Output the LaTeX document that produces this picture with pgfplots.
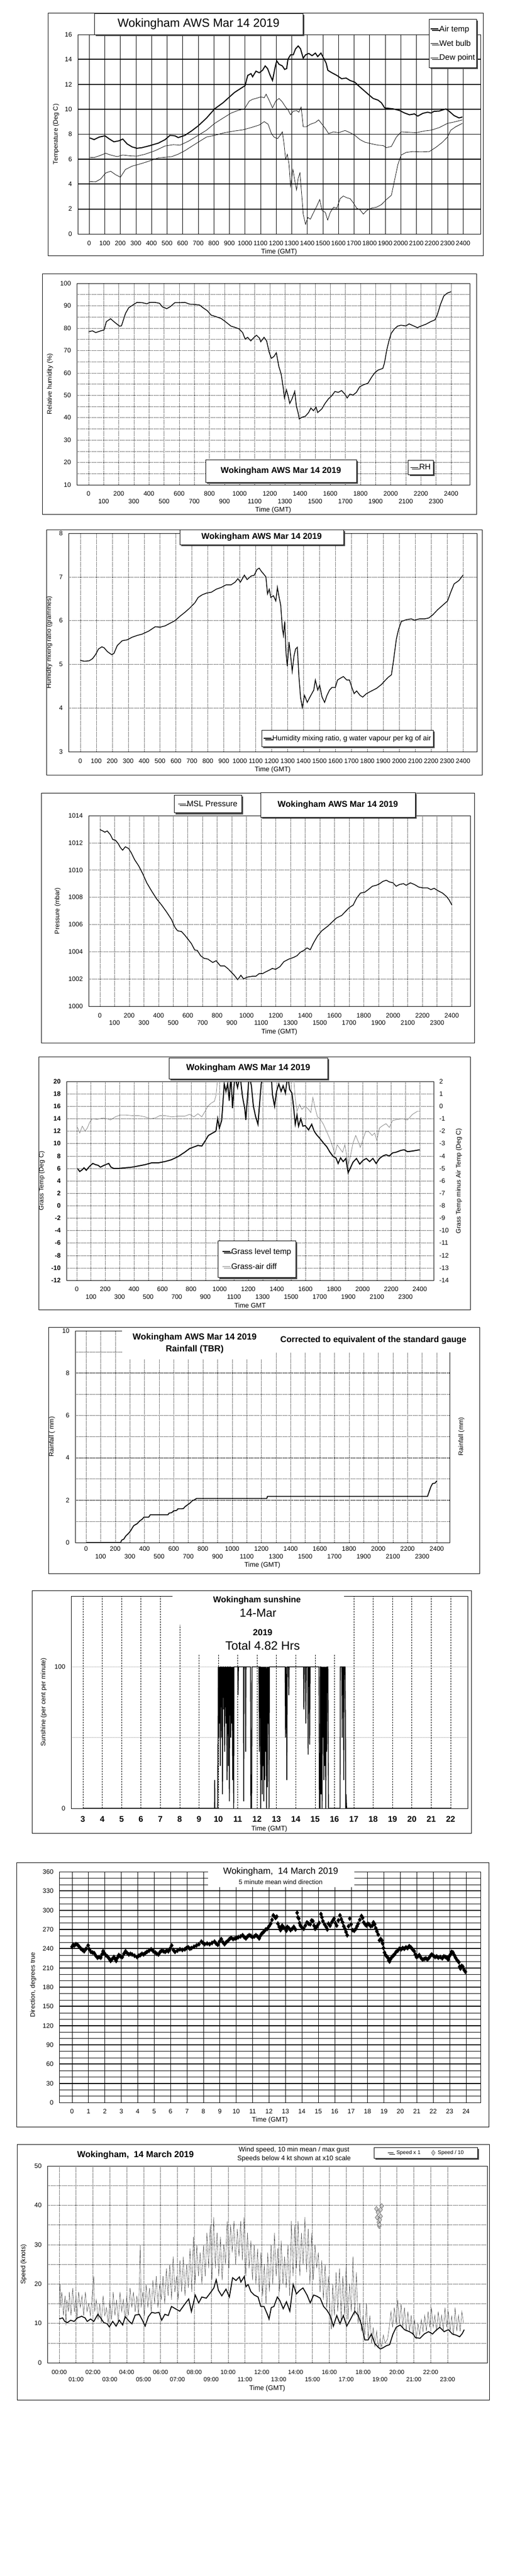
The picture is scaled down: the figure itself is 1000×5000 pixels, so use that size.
\documentclass[border=0pt]{standalone}
\usepackage{fontspec}
\setmainfont{Liberation Sans}
\usepackage{pgfplots}
\pgfplotsset{compat=1.18}
\usetikzlibrary{shadows}

\tikzset{
  dg/.style={black, line width=0.5pt, dash pattern=on 1pt off 1.2pt},
  tb/.style={draw=black, line width=0.6pt, fill=white, inner sep=0pt,
    drop shadow={shadow xshift=3pt, shadow yshift=-3pt, opacity=1, fill=black!70}},
}
\pgfplotsset{
  /pgf/number format/assume math mode=true,
  /pgf/number format/1000 sep={},
  wk/.style={scale only axis, anchor=south west, scaled ticks=false,
    axis line style={line width=0.8pt}, tick style={draw=none},
    tick label style={font=\fontsize{12.5}{14}\selectfont},
    xticklabel style={anchor=center, inner sep=0pt},
    ylabel style={font=\fontsize{12.5}{14}\selectfont, anchor=center},
    xlabel style={font=\fontsize{13}{14}\selectfont, anchor=center},
    legend cell align=left,
    legend style={draw=black, line width=0.6pt, fill=white,
      font=\fontsize{15.5}{17}\selectfont, nodes={inner sep=1pt},
      drop shadow={shadow xshift=3pt, shadow yshift=-3pt, opacity=1, fill=black!70}},
  },
  yl/.style={yticklabel style={anchor=east, inner sep=0pt, xshift=-11pt}},
  li/.style={legend image code/.code={\draw[##1] (0pt,0pt) -- (15pt,0pt);}},
}

\begin{document}
\begin{tikzpicture}
\fill[white] (0pt,0pt) rectangle (1000pt,-5000pt);
\path[use as bounding box] (0pt,0pt) rectangle (1000pt,-5000pt);

% frames
\begin{scope}[line width=0.8pt]
\draw (93pt,-25pt) rectangle (938pt,-496pt);
\draw (82pt,-531pt) rectangle (925pt,-998pt);
\draw (90pt,-1028pt) rectangle (936pt,-1504pt);
\draw (80pt,-1539pt) rectangle (921pt,-2024pt);
\draw (75pt,-2051pt) rectangle (913pt,-2542pt);
\draw (94pt,-2576pt) rectangle (931pt,-3054pt);
\draw (62pt,-3087pt) rectangle (915pt,-3558pt);
\draw (32pt,-3615pt) rectangle (949pt,-4128pt);
\draw (33pt,-4162pt) rectangle (950pt,-4658pt);
\end{scope}

% ---------- 1 temperature
\begin{axis}[wk, yl, li, at={(151pt,-454pt)}, width=782pt, height=387pt,
  xmin=-73, xmax=2512, ymin=0, ymax=16,
  xtick={0,100,...,2400}, ytick={0,2,...,16},
  xticklabel style={yshift=-18pt},
  xmajorgrids, major grid style={black, line width=0.6pt},
  extra y ticks={2,4,...,14}, extra y tick labels={},
  extra y tick style={grid=major, major grid style={black, line width=1.8pt}},
  xlabel={Time (GMT)}, xlabel style={at={(axis description cs:0.5,-0.09)}},
  ylabel={Temperature (Deg C)}, ylabel style={at={(axis description cs:-0.054,0.5)}},
  legend style={at={(axis description cs:0.872,1.078)}, anchor=north west,
    row sep=13pt, inner ysep=12pt, inner xsep=2pt},
]
\addplot[black, line width=2pt] coordinates {(4,7.7)(32,7.57)(64,7.77)(102,7.87)(127,7.64)(159,7.39)(191,7.47)(216,7.61)(244,7.22)(276,6.98)(307,6.87)(339,6.92)(392,7.09)(445,7.29)(488,7.57)(519,7.91)(551,7.87)(572,7.73)(615,7.91)(657,8.26)(700,8.67)(753,9.29)(806,10.04)(859,10.52)(890,10.87)(933,11.35)(975,11.69)(1001,11.9)(1018,12.72)(1039,12.86)(1049,12.61)(1071,13.06)(1092,12.93)(1113,13.13)(1130,13.48)(1145,13.27)(1162,12.72)(1177,12.31)(1192,13.27)(1204,13.89)(1219,13.61)(1240,13.48)(1255,13.2)(1268,13.27)(1276,14.02)(1293,14.37)(1310,14.37)(1325,14.85)(1342,15.08)(1357,14.85)(1374,14.1)(1389,14.37)(1410,14.48)(1431,14.3)(1452,14.51)(1467,14.23)(1488,14.51)(1505,14.1)(1522,13.68)(1532,13.13)(1558,12.93)(1590,12.72)(1621,12.45)(1649,12.51)(1675,12.31)(1706,12.17)(1728,11.9)(1760,11.55)(1791,11.21)(1823,10.87)(1855,10.73)(1876,10.52)(1897,10.11)(1919,10.08)(1950,10.04)(1993,9.9)(2025,9.7)(2056,9.56)(2088,9.63)(2109,9.45)(2141,9.67)(2173,9.77)(2194,9.7)(2215,9.84)(2247,9.86)(2290,10.03)(2311,9.84)(2343,9.49)(2374,9.31)(2396,9.38)};
\addlegendentry{Air temp}
\addplot[black, line width=0.8pt] coordinates {(4,6.15)(32,6.13)(64,6.26)(106,6.47)(138,6.33)(180,6.2)(216,6.33)(265,6.26)(307,6.24)(360,6.4)(424,6.68)(488,7.06)(541,7.16)(583,7.12)(636,7.43)(700,7.91)(753,8.32)(806,8.87)(859,9.29)(912,9.7)(954,9.9)(997,10.04)(1028,10.66)(1049,10.8)(1081,10.91)(1102,11.0)(1124,10.93)(1136,11.21)(1155,10.73)(1177,10.11)(1198,10.66)(1219,10.87)(1240,10.59)(1261,10.18)(1276,9.97)(1293,9.56)(1310,9.84)(1331,9.9)(1346,9.77)(1361,10.18)(1374,8.6)(1395,8.6)(1420,8.8)(1452,8.94)(1473,9.15)(1495,8.8)(1516,8.46)(1537,8.05)(1569,8.19)(1601,8.12)(1643,8.3)(1675,8.12)(1706,7.91)(1738,7.57)(1770,7.36)(1812,7.23)(1855,7.12)(1887,7.09)(1908,6.92)(1940,7.02)(1972,7.77)(2003,8.19)(2046,8.16)(2099,8.12)(2152,8.26)(2194,8.32)(2247,8.53)(2300,8.87)(2343,8.98)(2396,9.15)};
\addlegendentry{Wet bulb}
\addplot[black, line width=0.8pt] coordinates {(4,4.2)(42,4.18)(74,4.41)(106,4.89)(138,5.03)(170,4.75)(201,4.55)(233,5.17)(276,5.44)(318,5.58)(360,5.74)(403,5.92)(445,6.1)(488,6.15)(530,6.2)(572,6.4)(615,6.68)(657,7.02)(700,7.36)(753,7.77)(806,7.91)(869,8.12)(933,8.26)(986,8.35)(1039,8.53)(1092,8.74)(1124,9.01)(1149,8.8)(1170,8.05)(1187,7.77)(1209,7.64)(1226,7.91)(1240,8.19)(1251,7.23)(1261,5.99)(1272,6.4)(1283,5.58)(1293,3.79)(1308,5.17)(1321,4.2)(1331,3.52)(1342,4.48)(1353,4.89)(1363,3.38)(1374,1.59)(1389,0.77)(1404,1.32)(1420,1.18)(1441,1.73)(1463,2.28)(1480,2.76)(1495,1.87)(1516,1.73)(1531,1.11)(1548,1.73)(1569,2.14)(1590,2.07)(1611,2.83)(1632,3.04)(1654,2.9)(1675,2.83)(1696,2.49)(1717,2.07)(1738,1.94)(1760,1.59)(1781,1.87)(1812,2.07)(1844,2.14)(1876,2.35)(1908,2.76)(1940,3.1)(1961,4.34)(1982,5.58)(2003,6.33)(2035,6.54)(2077,6.61)(2131,6.58)(2184,6.61)(2226,6.95)(2268,7.36)(2300,7.77)(2321,8.32)(2353,8.6)(2396,8.87)};
\addlegendentry{Dew point}
\end{axis}
\node[tb, minimum width=405pt, minimum height=41pt] at (385.5pt,-46.5pt) {\fontsize{23}{26}\selectfont Wokingham AWS Mar 14 2019};

% ---------- 2 relative humidity
\begin{axis}[wk, yl, li, at={(149pt,-941pt)}, width=763pt, height=391pt,
  xmin=-78, xmax=2523, ymin=10, ymax=100,
  xtick={0,200,...,2400}, extra x ticks={100,300,...,2300},
  xticklabel style={yshift=-17pt},
  extra x tick style={grid=major, xticklabel style={yshift=-15pt}},
  ytick={10,20,...,100}, minor ytick={15,25,...,95},
  grid=both, major grid style={dg}, minor grid style={dg},
  xlabel={Time (GMT)}, xlabel style={at={(axis description cs:0.5,-0.125)}},
  ylabel={Relative humidity (\%)}, ylabel style={at={(axis description cs:-0.068,0.5)}},
  legend style={at={(axis description cs:0.843,0.123)}, anchor=north west, inner ysep=7pt, inner xsep=4pt},
]
\addplot[black, line width=1.5pt] coordinates {(0,78.4)(26,78.8)(48,78.0)(81,78.8)(103,79.2)(118,82.9)(146,84.2)(168,82.9)(190,81.7)(205,80.9)(218,81.0)(245,86.6)(266,89.1)(288,90.1)(321,91.5)(354,91.4)(386,90.9)(408,91.5)(441,91.5)(470,91.1)(489,89.5)(518,88.7)(539,89.5)(572,91.4)(605,91.4)(638,91.5)(670,90.7)(703,90.6)(736,90.3)(758,89.1)(786,87.8)(812,85.8)(845,85.1)(878,84.3)(906,82.9)(943,80.9)(976,80.2)(998,79.6)(1020,78.0)(1037,75.1)(1053,75.9)(1074,74.3)(1096,75.9)(1112,76.8)(1132,75.5)(1140,73.9)(1162,75.9)(1179,74.3)(1195,69.4)(1210,66.5)(1227,67.3)(1243,69.0)(1260,62.8)(1275,59.5)(1288,53.8)(1297,48.8)(1310,52.5)(1321,49.7)(1332,46.4)(1347,48.4)(1365,51.7)(1376,45.1)(1387,42.3)(1395,39.4)(1413,40.2)(1435,40.6)(1457,42.3)(1472,44.3)(1489,43.1)(1506,44.7)(1517,42.3)(1544,43.9)(1566,46.4)(1588,48.4)(1609,49.7)(1631,51.7)(1653,51.3)(1675,52.1)(1697,50.5)(1712,48.8)(1730,50.5)(1751,50.1)(1773,51.3)(1795,53.8)(1817,54.6)(1850,55.4)(1872,57.9)(1893,59.9)(1915,61.2)(1948,62.0)(1959,64.4)(1974,70.2)(1987,73.9)(2003,77.6)(2024,79.6)(2046,80.9)(2068,81.3)(2101,81.0)(2122,81.9)(2155,80.9)(2177,80.2)(2199,80.9)(2232,81.7)(2265,82.9)(2293,83.7)(2308,85.8)(2330,90.7)(2352,94.4)(2374,95.6)(2400,96.3)};
\addlegendentry{RH}
\end{axis}
\node[tb, minimum width=293pt, minimum height=44pt] at (545.5pt,-914pt) {\bfseries\fontsize{16.5}{18}\selectfont Wokingham AWS Mar 14 2019};

% ---------- 3 mixing ratio
\begin{axis}[wk, yl, li, at={(133pt,-1459pt)}, width=793pt, height=424pt,
  xmin=-74, xmax=2487, ymin=3, ymax=8,
  xtick={0,100,...,2400}, ytick={3,4,...,8},
  xticklabel style={yshift=-18pt},
  grid=major, major grid style={dg},
  xlabel={Time (GMT)}, xlabel style={at={(axis description cs:0.5,-0.083)}},
  ylabel={Humidity mixing ratio (grammes)}, ylabel style={at={(axis description cs:-0.047,0.5)}},
  legend style={at={(axis description cs:0.473,0.099)}, anchor=north west, inner ysep=9pt, inner xsep=3pt, font=\fontsize{14}{16}\selectfont},
]
\addplot[black, line width=1.5pt] coordinates {(0,5.09)(25,5.07)(56,5.08)(77,5.13)(97,5.23)(114,5.35)(135,5.40)(149,5.38)(170,5.29)(197,5.22)(211,5.25)(232,5.43)(263,5.54)(294,5.56)(325,5.62)(356,5.66)(387,5.69)(429,5.76)(470,5.86)(501,5.85)(532,5.88)(563,5.94)(594,6.0)(625,6.1)(656,6.19)(687,6.29)(719,6.41)(739,6.53)(764,6.59)(791,6.63)(822,6.65)(853,6.72)(884,6.76)(915,6.82)(946,6.82)(971,6.88)(988,6.96)(1004,6.88)(1029,7.04)(1046,6.94)(1071,7.02)(1091,7.04)(1108,7.17)(1122,7.20)(1137,7.12)(1149,7.07)(1164,7.0)(1174,6.61)(1185,6.72)(1195,6.53)(1211,6.57)(1226,6.45)(1236,6.76)(1247,6.53)(1257,6.35)(1267,5.82)(1274,5.66)(1282,5.98)(1290,5.27)(1298,4.96)(1309,5.51)(1319,5.19)(1329,4.84)(1340,5.19)(1350,5.35)(1361,5.39)(1371,4.72)(1381,4.25)(1392,4.01)(1406,4.29)(1423,4.13)(1443,4.27)(1464,4.41)(1474,4.64)(1489,4.41)(1501,4.52)(1516,4.25)(1532,4.13)(1547,4.29)(1563,4.41)(1578,4.47)(1599,4.47)(1613,4.64)(1630,4.68)(1650,4.72)(1671,4.64)(1688,4.64)(1702,4.48)(1717,4.33)(1733,4.39)(1754,4.29)(1771,4.25)(1795,4.33)(1826,4.39)(1858,4.45)(1889,4.54)(1909,4.62)(1930,4.70)(1951,4.76)(1965,5.11)(1982,5.58)(1996,5.80)(2013,5.98)(2044,6.02)(2075,6.04)(2096,6.01)(2127,6.04)(2158,6.04)(2185,6.06)(2210,6.13)(2241,6.25)(2272,6.35)(2303,6.45)(2323,6.65)(2344,6.84)(2375,6.92)(2400,7.04)};
\addlegendentry{Humidity mixing ratio, g water vapour per kg of air}
\end{axis}
\node[tb, minimum width=318pt, minimum height=29pt] at (508pt,-1042.5pt) {\bfseries\fontsize{16.5}{18}\selectfont Wokingham AWS Mar 14 2019};

% ---------- 4 pressure
\begin{axis}[wk, yl, li, at={(172pt,-1953pt)}, width=741pt, height=370pt,
  xmin=-77, xmax=2526, ymin=1000, ymax=1014,
  xtick={0,200,...,2400}, extra x ticks={100,300,...,2300},
  xticklabel style={yshift=-18pt},
  extra x tick style={grid=major, xticklabel style={yshift=-14pt}},
  ytick={1000,1002,...,1014},
  grid=major, major grid style={dg},
  xlabel={Time (GMT)}, xlabel style={at={(axis description cs:0.5,-0.135)}},
  ylabel={Pressure (mbar)}, ylabel style={at={(axis description cs:-0.081,0.5)}},
  legend style={at={(axis description cs:0.224,1.108)}, anchor=north west, inner ysep=10pt, inner xsep=7pt},
]
\addplot[black, line width=1.5pt] coordinates {(0,1012.97)(20,1012.87)(34,1012.78)(50,1012.87)(72,1012.59)(88,1012.24)(106,1012.19)(124,1011.96)(140,1011.65)(155,1011.46)(174,1011.71)(196,1011.58)(214,1011.27)(237,1010.76)(264,1010.32)(291,1009.76)(320,1009.06)(354,1008.44)(388,1007.87)(421,1007.43)(455,1006.92)(489,1006.36)(512,1005.79)(530,1005.54)(557,1005.48)(579,1005.22)(602,1004.91)(624,1004.60)(647,1004.13)(665,1004.09)(687,1003.71)(710,1003.52)(737,1003.46)(770,1003.21)(793,1003.34)(822,1002.96)(850,1002.96)(872,1002.77)(895,1002.52)(917,1002.27)(940,1001.95)(962,1002.27)(980,1002.01)(1007,1002.14)(1041,1002.20)(1064,1002.20)(1086,1002.39)(1109,1002.39)(1131,1002.52)(1154,1002.64)(1176,1002.77)(1199,1002.71)(1228,1002.90)(1255,1003.27)(1289,1003.46)(1323,1003.59)(1345,1003.71)(1368,1003.97)(1390,1004.09)(1413,1004.28)(1435,1004.15)(1458,1004.66)(1485,1005.16)(1514,1005.54)(1537,1005.73)(1559,1005.92)(1589,1006.23)(1614,1006.48)(1650,1006.67)(1672,1006.92)(1701,1007.24)(1728,1007.43)(1751,1007.93)(1778,1008.31)(1807,1008.37)(1830,1008.56)(1859,1008.81)(1886,1008.88)(1909,1009.00)(1931,1009.17)(1954,1009.25)(1974,1009.13)(1999,1009.06)(2021,1008.81)(2044,1008.94)(2071,1009.00)(2089,1008.88)(2118,1009.06)(2145,1008.94)(2175,1008.75)(2202,1008.69)(2235,1008.69)(2258,1008.56)(2280,1008.66)(2303,1008.50)(2337,1008.31)(2364,1008.06)(2382,1007.81)(2400,1007.45)};
\addlegendentry{MSL Pressure}
\end{axis}
\node[tb, minimum width=300pt, minimum height=48pt] at (656pt,-1562pt) {\bfseries\fontsize{16.5}{18}\selectfont Wokingham AWS Mar 14 2019};

% ---------- 5 grass temperature
\begin{axis}[wk, yl, at={(129pt,-2485pt)}, width=713pt, height=386pt,
  xmin=-72, xmax=2497, ymin=-12, ymax=20,
  yticklabel style={font=\bfseries\fontsize{12.5}{14}\selectfont},
  xtick={0,200,...,2400}, extra x ticks={100,300,...,2300},
  xticklabel style={yshift=-17pt},
  extra x tick style={grid=major, xticklabel style={yshift=-15pt}},
  ytick={-12,-10,...,20},
  grid=major, major grid style={dg},
  extra y ticks={0,16}, extra y tick labels={},
  extra y tick style={grid=major, major grid style={black, line width=0.8pt}},
  xlabel={Time GMT}, xlabel style={at={(axis description cs:0.5,-0.127)}},
  ylabel={Grass Temp (Deg C)}, ylabel style={at={(axis description cs:-0.067,0.5)}},
]
\addplot[black, line width=2pt] coordinates {(5,6.0)(21,5.5)(39,5.8)(51,6.1)(67,5.7)(81,6.1)(97,6.5)(113,6.8)(132,6.6)(150,6.5)(166,6.2)(182,6.4)(201,6.6)(224,6.8)(240,6.2)(259,6.0)(293,6.0)(340,6.1)(386,6.2)(432,6.4)(478,6.6)(524,6.9)(571,6.9)(617,7.1)(663,7.4)(709,7.9)(755,8.6)(790,9.2)(825,9.5)(848,9.7)(875,9.6)(898,10.4)(921,11.3)(951,11.7)(974,12.0)(986,14.0)(998,12.5)(1014,13.7)(1023,16.6)(1032,19.6)(1044,18.4)(1056,19.6)(1067,16.9)(1079,21)(1090,15.7)(1106,21)(1125,19.0)(1143,21)(1160,17.5)(1176,15.6)(1183,13.8)(1194,17.2)(1206,21)(1222,19.3)(1236,16.0)(1252,14.3)(1268,13.1)(1282,17.2)(1291,19.6)(1305,21)(1333,21)(1360,21)(1370,17.8)(1384,16.0)(1398,18.4)(1414,19.6)(1430,18.4)(1444,19.3)(1460,18.1)(1476,21)(1490,18.7)(1506,18.1)(1518,15.7)(1529,13.1)(1541,14.6)(1552,12.8)(1568,14.0)(1582,12.8)(1598,12.9)(1622,12.2)(1644,13.1)(1661,12.0)(1679,11.4)(1702,10.8)(1726,10.1)(1749,9.5)(1772,8.6)(1795,7.9)(1813,7.7)(1829,6.8)(1846,7.7)(1864,7.1)(1883,7.6)(1899,5.3)(1915,6.1)(1933,7.0)(1957,7.6)(1980,6.7)(2003,7.3)(2026,7.6)(2049,7.1)(2072,7.6)(2095,6.8)(2118,7.6)(2141,8.0)(2164,8.2)(2187,8.0)(2210,8.5)(2233,8.6)(2268,8.9)(2291,9.0)(2314,8.7)(2349,8.8)(2400,9.0)};
\end{axis}
\begin{axis}[wk, li, at={(129pt,-2485pt)}, width=713pt, height=386pt,
  axis y line*=right, axis x line=none,
  xmin=-72, xmax=2497, ymin=-14, ymax=2, ytick={-14,-13,...,2},
  yticklabel style={anchor=west, inner sep=0pt, xshift=11pt},
  ylabel={Grass Temp minus Air Temp (Deg C)}, ylabel style={at={(axis description cs:1.069,0.5)}},
  legend style={at={(axis description cs:0.412,0.2)}, anchor=north west, row sep=14pt, inner ysep=14pt, inner xsep=8pt},
]
\addlegendimage{black, line width=2pt}
\addlegendentry{Grass level temp}
\addplot[black!50, line width=0.8pt] coordinates {(5,-1.7)(21,-2.15)(39,-1.6)(58,-2.0)(74,-1.75)(90,-1.3)(109,-1.0)(143,-1.05)(178,-0.95)(213,-1.0)(236,-1.1)(270,-0.85)(305,-0.7)(340,-0.7)(386,-0.75)(432,-0.75)(478,-0.85)(513,-1.0)(547,-0.95)(582,-0.75)(617,-0.75)(663,-0.85)(709,-0.8)(755,-0.8)(790,-0.65)(820,-0.85)(848,-0.6)(875,-0.85)(898,-0.4)(917,0.0)(940,0.25)(963,0.4)(975,0.9)(986,2.3)(1000,3)(1100,3.5)(1200,3)(1300,3.5)(1400,3)(1505,3)(1518,2.3)(1529,0.6)(1541,-0.4)(1559,0.15)(1575,-0.25)(1598,0.0)(1622,-0.25)(1638,-0.5)(1652,0.7)(1668,-0.15)(1684,-0.85)(1702,-1.0)(1726,-1.45)(1749,-2.05)(1772,-2.65)(1790,-3.25)(1806,-3.85)(1822,-3.1)(1841,-3.4)(1860,-3.7)(1876,-3.1)(1887,-3.85)(1899,-4.75)(1915,-4.0)(1933,-2.95)(1952,-2.35)(1968,-2.8)(1984,-3.3)(2003,-2.65)(2021,-2.05)(2044,-2.05)(2067,-2.35)(2084,-2.15)(2100,-2.75)(2118,-1.75)(2141,-1.55)(2164,-1.4)(2187,-1.7)(2210,-1.15)(2245,-1.05)(2279,-1.0)(2314,-1.1)(2349,-0.65)(2384,-0.4)(2400,-0.4)};
\addlegendentry{Grass-air diff}
\end{axis}
\node[tb, minimum width=308pt, minimum height=41pt] at (482pt,-2073.5pt) {\bfseries\fontsize{17}{19}\selectfont Wokingham AWS Mar 14 2019};

% ---------- 6 rainfall
\begin{axis}[wk, yl, at={(146pt,-2994pt)}, width=727pt, height=411pt,
  xmin=-74, xmax=2488, ymin=0, ymax=10,
  xtick={0,200,...,2400}, extra x ticks={100,300,...,2300},
  xticklabel style={yshift=-12pt},
  extra x tick style={grid=major, xticklabel style={yshift=-15pt}},
  xmajorgrids, major grid style={dg},
  ytick={0,2,...,10}, minor ytick={1,3,...,9}, yminorgrids, minor grid style={dg},
  extra y ticks={2,4,6,8}, extra y tick labels={},
  extra y tick style={grid=major, major grid style={black, line width=1.8pt}},
  xlabel={Time (GMT)}, xlabel style={at={(axis description cs:0.5,-0.107)}},
  ylabel={Rainfall ( mm)}, ylabel style={at={(axis description cs:-0.062,0.5)}},
]
\addplot[black, line width=1.8pt] coordinates {(0,0)(237,0)(244,0.11)(260,0.17)(271,0.3)(289,0.42)(305,0.55)(316,0.68)(327,0.8)(350,0.89)(366,1.01)(384,1.1)(397,1.2)(429,1.2)(440,1.31)(560,1.31)(569,1.39)(587,1.41)(598,1.49)(621,1.52)(628,1.59)(666,1.6)(677,1.69)(693,1.77)(711,1.86)(727,1.97)(745,2.03)(756,2.08)(1237,2.08)(1242,2.18)(2337,2.18)(2348,2.4)(2359,2.62)(2371,2.78)(2389,2.81)(2400,2.91)};
\end{axis}
\fill[white] (237pt,-2578pt) rectangle (522pt,-2638pt);
\fill[white] (522pt,-2578pt) rectangle (926pt,-2625pt);
\node[font=\bfseries\fontsize{17}{19}\selectfont] at (378pt,-2596pt) {Wokingham AWS Mar 14 2019};
\node[font=\bfseries\fontsize{17}{19}\selectfont] at (378pt,-2619pt) {Rainfall (TBR)};
\node[font=\bfseries\fontsize{16.5}{18}\selectfont] at (725pt,-2601pt) {Corrected to equivalent of the standard gauge};
\node[rotate=90, font=\fontsize{12.5}{14}\selectfont] at (896pt,-2788pt) {Rainfall (mm)};

% ---------- 7 sunshine
\begin{axis}[wk, yl, at={(138pt,-3510pt)}, width=770pt, height=412pt,
  xmin=2.39, xmax=22.88, ymin=0, ymax=150,
  xtick={3,4,...,22}, ytick={0,50,100}, yticklabels={0,,100},
  xticklabel style={font=\bfseries\fontsize{16}{18}\selectfont, yshift=-21pt},
  grid=major, x grid style={black, line width=0.6pt, dash pattern=on 3pt off 2pt},
  y grid style={black!45, line width=0.5pt, dash pattern=on 1pt off 1pt},
  xlabel={Time (GMT)}, xlabel style={at={(axis description cs:0.5,-0.097)}},
  ylabel={Sunshine (per cent per minute)}, ylabel style={at={(axis description cs:-0.069,0.5)}},
]
\addplot[black, line width=1.6pt] coordinates {(3,0)(9.80,0)(9.81,20)(9.82,0)(9.96,0)(9.98,40)(10.00,100)(10.02,50)(10.04,100)(10.06,60)(10.08,100)(10.10,30)(10.12,100)(10.15,100)(10.17,50)(10.19,100)(10.21,10)(10.23,100)(10.26,100)(10.28,70)(10.30,100)(10.33,40)(10.35,100)(10.38,100)(10.40,60)(10.42,100)(10.45,20)(10.47,100)(10.50,100)(10.52,30)(10.54,100)(10.57,5)(10.59,100)(10.62,100)(10.64,50)(10.66,100)(10.69,60)(10.71,100)(10.74,20)(10.76,100)(10.79,0)(10.81,100)(11.00,100)(11.02,80)(11.04,100)(11.30,100)(11.31,5)(11.33,100)(11.40,100)(11.41,40)(11.43,100)(11.66,100)(11.68,0)(11.72,0)(11.74,100)(12.10,100)(12.12,40)(12.14,100)(12.17,100)(12.19,0)(12.21,100)(12.23,20)(12.25,100)(12.27,10)(12.29,100)(12.31,30)(12.33,100)(12.35,5)(12.37,100)(12.40,20)(12.42,100)(12.44,40)(12.46,100)(12.49,0)(12.51,100)(12.53,15)(12.55,100)(12.58,60)(12.60,100)(12.62,0)(12.64,100)(13.45,100)(13.47,50)(13.50,100)(13.52,80)(13.54,20)(13.56,100)(13.62,100)(13.64,80)(13.66,100)(14.40,100)(14.42,70)(14.44,100)(14.50,100)(14.52,60)(14.55,100)(14.62,100)(14.64,38)(14.66,100)(14.70,100)(14.72,45)(14.74,100)(15.20,100)(15.22,0)(15.26,0)(15.27,100)(15.30,100)(15.31,10)(15.33,100)(15.36,0)(15.38,100)(15.40,50)(15.42,100)(15.45,20)(15.47,100)(15.50,30)(15.52,100)(15.55,0)(15.57,100)(15.60,40)(15.62,100)(15.66,100)(15.69,0)(16.29,0)(16.30,100)(16.38,100)(16.40,50)(16.42,100)(16.46,100)(16.48,20)(16.50,100)(16.55,100)(16.57,60)(16.58,0)(16.60,10)(16.63,0)(22,0)};
\end{axis}
\fill[white] (335pt,-3097pt) rectangle (668pt,-3154pt);
\fill[white] (358pt,-3154pt) rectangle (668pt,-3212pt);
\node[font=\bfseries\fontsize{16.5}{18}\selectfont] at (499pt,-3106pt) {Wokingham sunshine};
\node[font=\fontsize{22.5}{25}\selectfont] at (501pt,-3131pt) {14-Mar};
\node[font=\bfseries\fontsize{17}{19}\selectfont] at (510pt,-3169pt) {2019};
\node[font=\fontsize{23.5}{26}\selectfont] at (510pt,-3194pt) {Total 4.82 Hrs};

% ---------- 8 wind direction
\begin{axis}[wk, yl, at={(115pt,-4081pt)}, width=818pt, height=448pt,
  xmin=-0.78, xmax=24.88, ymin=0, ymax=360,
  xtick={0,1,...,24}, ytick={0,30,...,360}, minor ytick={10,20,...,350},
  xticklabel style={yshift=-17pt},
  xmajorgrids, major grid style={black, line width=0.6pt},
  yminorgrids, minor grid style={black, line width=0.6pt},
  extra y ticks={30,60,...,330}, extra y tick labels={},
  extra y tick style={grid=major, major grid style={black, line width=1.8pt}},
  xlabel={Time (GMT)}, xlabel style={at={(axis description cs:0.5,-0.076)}},
  ylabel={Direction, degrees true}, ylabel style={at={(axis description cs:-0.062,0.51)}},
]
\addplot[only marks, mark=diamond*, mark size=4.5pt, black] coordinates {(0,243)(0.07,246)(0.14,245)(0.24,247)(0.34,246)(0.44,243)(0.54,240)(0.64,238)(0.74,236)(0.86,240)(0.98,245)(1.06,239)(1.15,235)(1.25,234)(1.35,233)(1.45,229)(1.55,226)(1.65,227)(1.75,226)(1.82,231)(1.89,236)(1.97,233)(2.05,230)(2.15,228)(2.25,225)(2.3,223)(2.35,221)(2.45,224)(2.55,227)(2.62,224)(2.69,221)(2.77,226)(2.85,230)(2.95,228)(3.06,227)(3.16,232)(3.26,236)(3.36,233)(3.46,231)(3.56,232)(3.66,231)(3.81,229)(3.96,227)(4.06,229)(4.16,230)(4.26,232)(4.36,231)(4.46,233)(4.56,235)(4.69,237)(4.82,239)(4.95,236)(5.07,234)(5.17,232)(5.27,231)(5.37,235)(5.47,237)(5.57,236)(5.67,235)(5.77,237)(5.87,236)(5.97,240)(6.07,245)(6.17,238)(6.27,235)(6.42,237)(6.57,239)(6.72,238)(6.87,239)(6.97,241)(7.08,242)(7.18,240)(7.28,241)(7.43,243)(7.58,245)(7.73,247)(7.88,251)(7.98,249)(8.08,247)(8.23,248)(8.38,247)(8.53,249)(8.68,251)(8.78,248)(8.88,246)(8.98,251)(9.09,255)(9.19,250)(9.29,247)(9.39,250)(9.49,252)(9.59,255)(9.69,257)(9.81,255)(9.93,256)(10.03,257)(10.13,258)(10.26,259)(10.39,261)(10.49,258)(10.59,256)(10.69,259)(10.79,261)(10.89,260)(10.99,258)(11.1,259)(11.2,261)(11.3,259)(11.4,256)(11.47,260)(11.54,263)(11.62,265)(11.7,267)(11.8,270)(11.9,271)(12.0,275)(12.1,279)(12.18,285)(12.26,292)(12.33,290)(12.4,288)(12.47,290)(12.54,279)(12.62,274)(12.7,269)(12.75,272)(12.8,276)(12.9,273)(13.0,271)(13.05,268)(13.11,274)(13.21,272)(13.31,269)(13.41,271)(13.51,274)(13.61,270)(13.71,296)(13.76,289)(13.81,287)(13.86,280)(13.91,276)(14.01,273)(14.11,271)(14.21,276)(14.31,281)(14.41,279)(14.51,278)(14.59,284)(14.67,283)(14.74,276)(14.81,271)(14.88,273)(14.95,276)(15.05,280)(15.16,294)(15.22,289)(15.28,283)(15.38,278)(15.48,274)(15.55,270)(15.62,279)(15.72,276)(15.82,281)(15.89,284)(15.96,287)(16.04,280)(16.12,276)(16.22,284)(16.32,292)(16.4,286)(16.48,281)(16.55,275)(16.62,271)(16.69,266)(16.76,261)(16.84,275)(16.92,287)(17.0,278)(17.09,269)(17.19,268)(17.29,271)(17.36,275)(17.43,279)(17.53,285)(17.63,291)(17.7,288)(17.77,281)(17.85,278)(17.93,276)(18.01,279)(18.09,278)(18.19,275)(18.29,276)(18.36,281)(18.43,278)(18.5,272)(18.57,267)(18.65,262)(18.73,253)(18.8,255)(18.87,253)(18.92,248)(18.97,241)(19.03,234)(19.1,230)(19.17,228)(19.24,226)(19.29,222)(19.34,220)(19.41,224)(19.48,227)(19.56,229)(19.64,231)(19.74,235)(19.84,237)(19.94,240)(20.04,239)(20.14,241)(20.24,240)(20.34,242)(20.44,241)(20.54,244)(20.64,242)(20.74,239)(20.84,236)(20.91,231)(20.98,227)(21.06,228)(21.15,230)(21.25,226)(21.35,223)(21.45,224)(21.55,225)(21.65,223)(21.75,226)(21.83,229)(21.91,231)(22.01,229)(22.11,227)(22.21,228)(22.31,226)(22.43,227)(22.55,225)(22.65,228)(22.75,227)(22.83,226)(22.91,223)(22.98,228)(23.05,231)(23.12,235)(23.2,234)(23.28,230)(23.36,226)(23.46,222)(23.56,219)(23.61,212)(23.66,209)(23.73,213)(23.8,212)(23.88,207)(23.96,204)};
\end{axis}
\fill[white] (404pt,-3630pt) rectangle (688pt,-3663pt);
\node[font=\fontsize{17.5}{19}\selectfont] at (545pt,-3633pt) {Wokingham,\ \ 14 March 2019};
\node[font=\fontsize{12.5}{14}\selectfont] at (545pt,-3653pt) {5 minute mean wind direction};

% ---------- 9 wind speed
\begin{axis}[wk, yl, at={(92pt,-4586pt)}, width=854pt, height=382pt,
  xmin=-0.70, xmax=25.35, ymin=0, ymax=50,
  xticklabel style={font=\fontsize{11.7}{13}\selectfont},
  xtick={0,2,...,22},
  xticklabels={00:00,02:00,04:00,06:00,08:00,10:00,12:00,14:00,16:00,18:00,20:00,22:00},
  extra x ticks={1,3,...,23},
  extra x tick labels={01:00,03:00,05:00,07:00,09:00,11:00,13:00,15:00,17:00,19:00,21:00,23:00},
  xticklabel style={yshift=-18pt},
  extra x tick style={grid=major, xticklabel style={yshift=-14pt}},
  ytick={0,10,...,50}, minor ytick={5,15,...,45},
  grid=both, major grid style={dg}, minor grid style={dg},
  xlabel={Time (GMT)}, xlabel style={at={(axis description cs:0.5,-0.131)}},
  ylabel={Speed (knots)}, ylabel style={at={(axis description cs:-0.054,0.5)}},
  legend columns=2,
  legend style={at={(axis description cs:0.742,1.095)}, anchor=north west,
    font=\fontsize{10.4}{11}\selectfont, inner xsep=26pt, inner ysep=5pt, column sep=4pt},
]
\addplot[black!70, line width=0.6pt, forget plot] coordinates {(0.0,15)(0.05,20)(0.1,14)(0.15,18)(0.2,16)(0.25,12)(0.35,17)(0.4,9.5)(0.45,16)(0.55,13)(0.6,18)(0.7,12)(0.8,19)(0.9,13)(1.0,17)(1.05,11)(1.15,18)(1.25,14)(1.35,17)(1.45,12)(1.55,18)(1.65,13)(1.75,15)(1.85,12)(1.95,17)(2.05,22)(2.1,13)(2.2,16)(2.3,11)(2.4,15)(2.5,10)(2.6,17)(2.7,12)(2.8,14)(2.9,10)(3.0,16)(3.1,11)(3.2,18)(3.3,12)(3.4,16)(3.5,10)(3.6,18)(3.7,13)(3.8,16)(3.9,11)(4.0,17)(4.1,12)(4.2,19)(4.3,14)(4.4,18)(4.5,13)(4.6,17)(4.7,12)(4.8,30)(4.85,14)(4.95,18)(5.05,12)(5.15,20)(5.25,14)(5.35,19)(5.45,13)(5.55,21)(5.65,15)(5.75,22)(5.85,14)(5.95,20)(6.05,16)(6.15,22)(6.25,15)(6.35,24)(6.45,17)(6.55,25)(6.65,16)(6.75,27)(6.85,18)(6.95,22)(7.05,16)(7.15,26)(7.25,18)(7.35,27)(7.45,17)(7.55,25)(7.65,19)(7.75,29)(7.85,18)(7.95,32)(8.05,20)(8.15,30)(8.25,22)(8.35,28)(8.45,20)(8.55,30)(8.65,22)(8.75,33)(8.85,24)(8.95,35)(9.05,21)(9.15,37)(9.25,24)(9.35,33)(9.45,22)(9.55,32)(9.65,21)(9.75,30)(9.85,25)(9.95,36)(10.05,24)(10.15,35)(10.25,28)(10.35,36)(10.45,25)(10.55,34)(10.65,27)(10.75,36)(10.85,26)(10.95,37)(11.05,22)(11.15,33)(11.25,24)(11.35,31)(11.45,21)(11.55,30)(11.65,20)(11.75,29)(11.85,18)(11.95,28)(12.05,17)(12.15,25)(12.25,15)(12.35,28)(12.45,18)(12.55,30)(12.65,20)(12.75,33)(12.85,22)(12.95,29)(13.05,18)(13.15,31)(13.25,20)(13.35,27)(13.45,19)(13.55,30)(13.65,17)(13.75,36)(13.85,22)(13.95,35)(14.05,24)(14.15,36)(14.25,22)(14.35,33)(14.45,25)(14.55,37)(14.65,23)(14.75,34)(14.85,20)(14.95,33)(15.05,21)(15.15,30)(15.25,24)(15.35,28)(15.45,18)(15.55,26)(15.65,16)(15.75,25)(15.85,14)(15.95,22)(16.05,12)(16.12,8.5)(16.2,20)(16.3,12)(16.4,23)(16.5,13)(16.6,24)(16.7,11)(16.8,22)(16.9,12)(17.0,25)(17.1,11)(17.2,20)(17.3,13)(17.4,27)(17.5,12)(17.6,23)(17.7,10)(17.8,15)(17.9,8)(18.0,12)(18.1,7)(18.2,15)(18.3,6)(18.4,12)(18.5,5)(18.6,9)(18.7,4)(18.8,8)(18.9,4)(19.0,6)(19.1,4)(19.2,7)(19.3,5)(19.45,6)(19.55,9)(19.65,13)(19.75,9)(19.85,14)(19.95,10)(20.05,16)(20.15,10)(20.25,15)(20.35,9)(20.45,14)(20.55,8)(20.65,13)(20.75,8)(20.85,12)(20.95,7)(21.05,11)(21.15,6)(21.25,10)(21.35,7)(21.45,11)(21.55,8)(21.65,12)(21.75,8)(21.85,13)(21.95,9)(22.05,14)(22.15,9)(22.25,12)(22.35,8)(22.45,13)(22.55,9)(22.65,12)(22.75,8)(22.85,14)(22.95,9)(23.05,13)(23.15,8)(23.25,12)(23.35,7)(23.45,14)(23.55,8)(23.65,12)(23.75,8)(23.85,13)(23.95,10)};
\addplot[black, line width=1.8pt, legend image code/.code={\draw[##1] (0pt,0pt) -- (11pt,0pt);}] coordinates {(0,11.1)(0.2,11.4)(0.33,10.5)(0.49,10.2)(0.68,10.8)(0.88,10.5)(1.08,11.4)(1.33,11.8)(1.53,11.4)(1.66,10.5)(1.86,11.1)(2.05,10.5)(2.29,12.3)(2.45,11.4)(2.64,10.2)(2.84,9.9)(2.97,9.1)(3.17,10.5)(3.37,9.3)(3.56,10.8)(3.76,9.6)(3.91,11.7)(4.15,10.5)(4.31,9.9)(4.5,12.1)(4.74,12.3)(4.93,10.8)(5.09,9.3)(5.28,11.7)(5.48,12.8)(5.68,12.6)(5.91,12.8)(6.07,10.8)(6.26,12.3)(6.46,12.0)(6.65,14.3)(6.89,13.7)(7.14,13.1)(7.44,14.9)(7.67,16.2)(7.83,13.0)(8.06,17.2)(8.26,15.2)(8.45,16.7)(8.71,16.4)(8.96,17.8)(9.16,19.0)(9.3,21.1)(9.43,18.4)(9.63,17.0)(9.88,18.7)(10.08,16.7)(10.27,21.6)(10.47,20.9)(10.67,21.8)(10.76,20.5)(10.96,21.9)(11.06,19.3)(11.19,19.9)(11.35,18.1)(11.55,17.2)(11.78,16.7)(11.94,14.3)(12.13,14.3)(12.33,12.3)(12.43,11.1)(12.56,14.0)(12.72,14.3)(12.92,16.7)(13.07,15.8)(13.27,13.7)(13.46,15.5)(13.66,13.1)(13.86,19.9)(14.05,17.5)(14.25,18.4)(14.44,19.0)(14.68,17.2)(14.87,15.2)(15.07,17.2)(15.26,16.9)(15.46,16.4)(15.66,14.3)(15.85,13.4)(16.05,12.0)(16.24,9.3)(16.44,12.0)(16.63,9.9)(16.83,12.0)(17.03,9.3)(17.26,11.1)(17.51,13.1)(17.71,12.0)(17.91,9.6)(18.1,5.8)(18.3,5.8)(18.49,7.3)(18.69,4.9)(18.88,4.0)(19.02,3.5)(19.18,3.8)(19.37,4.3)(19.57,4.6)(19.77,7.3)(19.96,9.0)(20.2,9.6)(20.45,8.4)(20.74,7.9)(20.97,7.3)(21.09,6.4)(21.37,6.2)(21.62,7.3)(21.88,7.9)(22.11,7.3)(22.31,8.2)(22.54,9.0)(22.8,7.9)(23.05,8.4)(23.29,7.3)(23.52,7.0)(23.72,6.6)(23.87,7.4)(23.99,8.4)};
\addlegendentry{Speed x 1\hspace*{16pt}}
\addplot[only marks, mark=diamond*, mark size=5pt, draw=black!70, fill=black!20, line width=0.5pt] coordinates {(18.79,39.1)(18.88,38.2)(18.83,36.9)(18.93,35.7)(18.96,34.7)(19.1,39.8)(19.04,38.9)(19.04,37.2)(18.99,36.3)(18.96,35.1)};
\addlegendentry{Speed / 10}
\end{axis}
\node[font=\bfseries\fontsize{17}{19}\selectfont] at (263pt,-4183pt) {Wokingham,\ \ 14 March 2019};
\node[font=\fontsize{13}{14}\selectfont] at (571pt,-4173pt) {Wind speed, 10 min mean / max gust};
\node[font=\fontsize{13}{14}\selectfont] at (571pt,-4190pt) {Speeds below 4 kt shown at x10 scale};
\end{tikzpicture}
\end{document}
